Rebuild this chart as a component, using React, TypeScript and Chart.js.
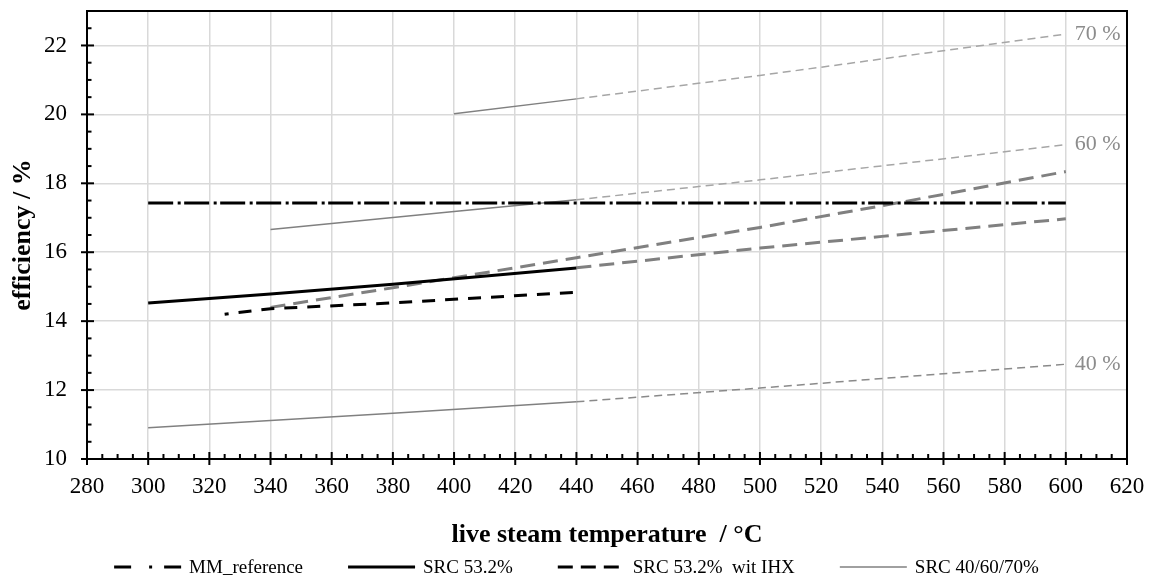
import React, { useEffect, useRef } from 'react';
import { Chart, registerables } from 'chart.js';

Chart.register(...registerables);

// ---- data ----
const mmTemp = [300, 600];
const mmEff = [17.43, 17.43];

const srcTemp = [300, 340, 380, 440];
const srcEff = [14.53, 14.79, 15.07, 15.54];

const ihxTemp = [325, 340, 380, 440];
const ihxEff = [14.2, 14.36, 14.53, 14.84];

const ihxExtTemp = [340, 380, 440, 500, 540, 600];
const ihxExtEff = [14.4, 14.97, 15.84, 16.72, 17.35, 18.34];

const srcExtTemp = [440, 500, 540, 600];
const srcExtEff = [15.55, 16.12, 16.46, 16.97];

const src40Temp = [300, 380, 440, 500, 600];
const src40Eff = [10.91, 11.33, 11.66, 12.06, 12.75];

const src60Temp = [340, 400, 440, 500, 600];
const src60Eff = [16.66, 17.18, 17.52, 18.1, 19.12];

const src70Temp = [400, 440, 500, 600];
const src70Eff = [20.02, 20.45, 21.13, 22.33];

const extrapolationStart = 440;
const endLabels = ['40 %', '60 %', '70 %'];
const legendLabels = ['MM_reference', 'SRC 53.2%', 'SRC 53.2%  wit IHX', 'SRC 40/60/70%'];

const xMin = 280, xMax = 620, xMajor = 20, xMinor = 5;
const yMin = 10, yMax = 23, yMajor = 2, yMinor = 0.5;

const pts = (xs: number[], ys: number[]) => xs.map((x, i) => ({ x, y: ys[i] }));

const FONT = "'Liberation Serif', 'Times New Roman', serif";

const thinLine = (temps: number[], effs: number[], dashColor: string) => ({
  label: '',
  data: pts(temps, effs),
  borderColor: '#808080',
  borderWidth: 1.5,
  pointRadius: 0,
  pointHoverRadius: 0,
  fill: false,
  tension: 0,
  segment: {
    borderDash: (c: any) => (temps[c.p0DataIndex] >= extrapolationStart ? [8, 5] : undefined),
    borderColor: (c: any) => (temps[c.p0DataIndex] >= extrapolationStart ? dashColor : undefined),
  },
});

const decorPlugin = {
  id: 'decor',
  afterDraw(chart: any) {
    const { ctx, chartArea: a } = chart;
    const xs = chart.scales.x;
    const ys = chart.scales.y;
    ctx.save();
    ctx.setLineDash([]);
    // frame
    ctx.strokeStyle = '#000';
    ctx.lineWidth = 2;
    ctx.strokeRect(a.left, a.top, a.right - a.left, a.bottom - a.top);
    // y ticks
    const nY = Math.round((yMax - yMin) / yMinor);
    for (let i = 0; i < nY; i++) {
      const v = yMin + i * yMinor;
      const py = ys.getPixelForValue(v);
      const major = Math.abs((v - yMin) / yMajor - Math.round((v - yMin) / yMajor)) < 1e-6;
      ctx.beginPath();
      if (major) {
        ctx.moveTo(a.left - 6, py);
        ctx.lineTo(a.left + 7, py);
      } else {
        ctx.moveTo(a.left, py);
        ctx.lineTo(a.left + 4.5, py);
      }
      ctx.stroke();
    }
    // x ticks
    const nX = Math.round((xMax - xMin) / xMinor);
    for (let i = 0; i <= nX; i++) {
      const v = xMin + i * xMinor;
      const px = xs.getPixelForValue(v);
      const major = (v - xMin) % xMajor === 0;
      ctx.beginPath();
      if (major) {
        ctx.moveTo(px, a.bottom - 7);
        ctx.lineTo(px, a.bottom + 6);
      } else {
        ctx.moveTo(px, a.bottom - 5);
        ctx.lineTo(px, a.bottom);
      }
      ctx.stroke();
    }
    // end labels for 40/60/70 %
    ctx.font = `22px ${FONT}`;
    ctx.fillStyle = '#8c8c8c';
    ctx.textBaseline = 'middle';
    ctx.textAlign = 'left';
    [5, 6, 7].forEach((di, k) => {
      const meta = chart.getDatasetMeta(di);
      const last = meta.data[meta.data.length - 1];
      ctx.fillText(endLabels[k], last.x + 9, last.y);
    });
    // legend
    const legendSets = [0, 1, 2, 5];
    const legendDash = [[17, 18, 3, 12], [], [15, 8], []];
    const boxW = 67;
    const gap = 8;
    const itemGap = 45;
    ctx.font = `19px ${FONT}`;
    const widths = legendLabels.map((t) => boxW + gap + ctx.measureText(t).width);
    const total = widths.reduce((s, w) => s + w, 0) + itemGap * (widths.length - 1);
    let lx = (chart.width - total) / 2;
    const ly = 567;
    legendSets.forEach((di, k) => {
      const ds = chart.data.datasets[di];
      ctx.strokeStyle = ds.borderColor;
      ctx.lineWidth = ds.borderWidth;
      ctx.lineCap = 'butt';
      ctx.setLineDash(legendDash[k]);
      ctx.beginPath();
      ctx.moveTo(lx, ly);
      ctx.lineTo(lx + boxW, ly);
      ctx.stroke();
      ctx.setLineDash([]);
      ctx.fillStyle = '#000';
      ctx.textBaseline = 'alphabetic';
      ctx.fillText(legendLabels[k], lx + boxW + gap, ly + 6);
      lx += widths[k] + itemGap;
    });
    ctx.restore();
  },
};

export default function App() {
  const ref = useRef<HTMLCanvasElement | null>(null);

  useEffect(() => {
    if (!ref.current) return;
    Chart.defaults.font.family = FONT;
    const chart = new Chart(ref.current, {
      type: 'line',
      data: {
        datasets: [
          {
            label: legendLabels[0],
            data: pts(mmTemp, mmEff),
            borderColor: '#000',
            borderWidth: 3,
            borderDash: [25, 4.5, 3, 3.5],
            pointRadius: 0,
            pointHoverRadius: 0,
            fill: false,
          },
          {
            label: legendLabels[1],
            data: pts(srcTemp, srcEff),
            borderColor: '#000',
            borderWidth: 3,
            pointRadius: 0,
            pointHoverRadius: 0,
            fill: false,
          },
          {
            label: legendLabels[2],
            data: pts(ihxTemp, ihxEff),
            borderColor: '#000',
            borderWidth: 3,
            borderDash: [13, 10],
            borderDashOffset: 9,
            pointRadius: 0,
            pointHoverRadius: 0,
            fill: false,
          },
          {
            label: '',
            data: pts(ihxExtTemp, ihxExtEff),
            borderColor: '#808080',
            borderWidth: 3,
            borderDash: [15, 8],
            pointRadius: 0,
            pointHoverRadius: 0,
            fill: false,
          },
          {
            label: '',
            data: pts(srcExtTemp, srcExtEff),
            borderColor: '#808080',
            borderWidth: 3,
            borderDash: [15, 8],
            pointRadius: 0,
            pointHoverRadius: 0,
            fill: false,
          },
          { ...thinLine(src40Temp, src40Eff, '#8a8a8a'), label: legendLabels[3] },
          thinLine(src60Temp, src60Eff, '#a6a6a6'),
          thinLine(src70Temp, src70Eff, '#a6a6a6'),
        ],
      },
      options: {
        animation: false,
        responsive: false,
        layout: { padding: { left: 0, right: 26, top: 11, bottom: 0 } },
        plugins: {
          legend: { display: false },
          tooltip: { enabled: false },
        },
        scales: {
          x: {
            type: 'linear',
            min: xMin,
            max: xMax,
            ticks: {
              stepSize: xMajor,
              padding: 14,
              color: '#000',
              font: { size: 23 },
              maxRotation: 0,
              autoSkip: false,
            },
            grid: { color: '#d9d9d9', lineWidth: 1.5, drawTicks: false },
            border: { color: '#000', width: 2 },
            title: {
              display: true,
              text: 'live steam temperature  / °C',
              color: '#000',
              font: { size: 26, weight: 'bold' },
              padding: { top: 0, bottom: 25 },
            },
            afterFit: (s: any) => {
              s.height = 117;
              s.paddingLeft = 0;
              s.paddingRight = 0;
            },
          },
          y: {
            type: 'linear',
            min: yMin,
            max: yMax,
            ticks: {
              stepSize: yMajor,
              includeBounds: false,
              padding: 20,
              color: '#000',
              font: { size: 23 },
            },
            grid: { color: '#d9d9d9', lineWidth: 1.5, drawTicks: false },
            border: { color: '#000', width: 2 },
            title: {
              display: true,
              text: 'efficiency / %',
              color: '#000',
              font: { size: 26, weight: 'bold' },
              padding: { top: 8, bottom: 0 },
            },
            afterFit: (s: any) => {
              s.width = 87;
              s.paddingTop = 0;
              s.paddingBottom = 0;
            },
          },
        },
      } as any,
      plugins: [decorPlugin],
    });
    return () => chart.destroy();
  }, []);

  return (
    <div style={{ position: 'absolute', left: 0, top: 0, width: 1153, height: 576 }}>
      <canvas ref={ref} width={1153} height={576} />
    </div>
  );
}
